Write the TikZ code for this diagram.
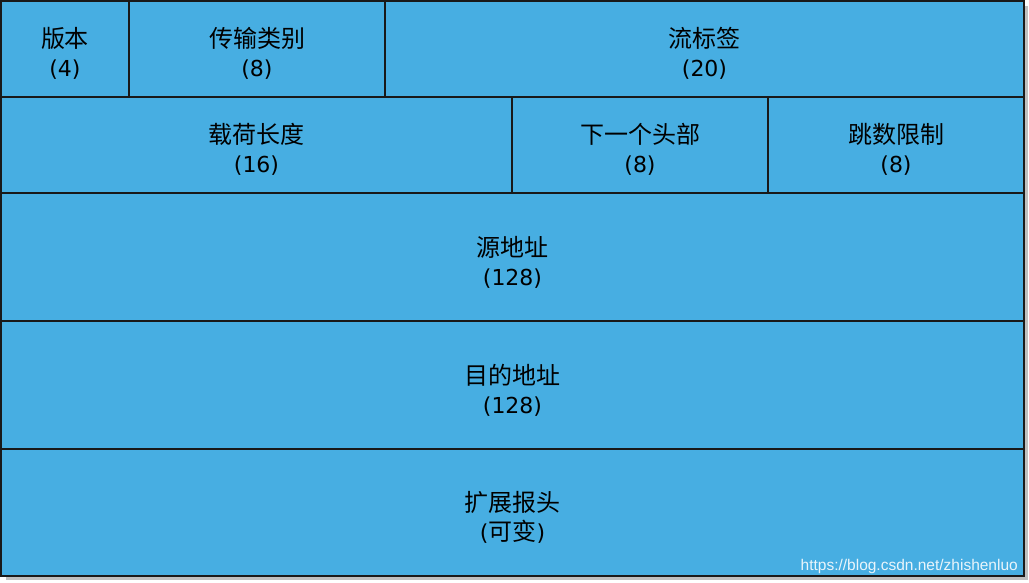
\documentclass[tikz,border=0pt]{standalone}
\usepackage{fontspec}
\setmainfont{DejaVu Sans}
\newfontfamily\cjk{Noto Sans CJK SC}
\newfontfamily\markfont{Liberation Sans}
\usepackage{tikz}
\usetikzlibrary{calc}
\definecolor{fieldblue}{RGB}{71,174,226}
\tikzstyle{field}=[rectangle, draw=black!90, fill=fieldblue,% one header field
line width=1.3pt, inner sep=0pt, align=center, text depth=0pt,
font=\fontsize{22}{29}\selectfont]
\tikzstyle{shade}=[fill=black!25, draw=none]
\newcommand{\hanzi}[1]{{\cjk\fontsize{24}{29}\selectfont #1}}
\newcommand{\fname}[1]{\hanzi{\rule{0pt}{27pt}#1}}

\begin{document}
\begin{tikzpicture}[x=1pt,y=-1pt]
\useasboundingbox (0,0) rectangle (1029,583);
\fill[white] (0,0) rectangle (1029,583);
\fill[shade] (6,6) rectangle (1028,580);
% row 1
\node[field, minimum width=128, minimum height=96] (ver) at (65,49) {\fname{版本}\\(4)};
\node[field, minimum width=256, minimum height=96] (cls) at (257,49) {\fname{传输类别}\\(8)};
\node[field, minimum width=639, minimum height=96] (flow) at (704.5,49) {\fname{流标签}\\(20)};
% row 2
\node[field, minimum width=511, minimum height=96] (len) at (256.5,145) {\fname{载荷长度}\\(16)};
\node[field, minimum width=256, minimum height=96] (next) at (640,145) {\fname{下一个头部}\\(8)};
\node[field, minimum width=256, minimum height=96] (hop) at (896,145) {\fname{跳数限制}\\(8)};
% addresses
\node[field, minimum width=1023, minimum height=128] (src) at (512.5,257) {\fname{源地址}\\(128)};
\node[field, minimum width=1023, minimum height=128] (dst) at (512.5,385) {\fname{目的地址}\\(128)};
\node[field, minimum width=1023, minimum height=127] (ext) at (512.5,512.5) {\fname{扩展报头}\\(\hanzi{可变})};
\node[anchor=base east, text=white!88!fieldblue, font=\markfont\fontsize{15.5}{17}\selectfont, inner sep=0pt] (mark) at (1018,570) {https://blog.csdn.net/zhishenluo};
\end{tikzpicture}
\end{document}
